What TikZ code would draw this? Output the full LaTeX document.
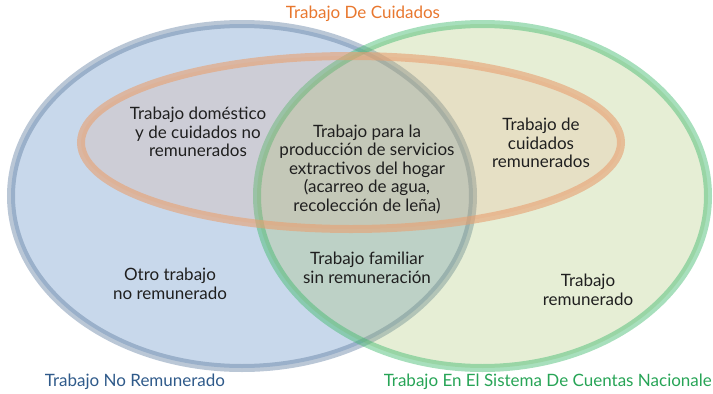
\documentclass[tikz,border=0pt]{standalone}
\usepackage{fontspec}
\setmainfont{Lato}
\usepackage{tikz}

\definecolor{BleuTrait}{HTML}{5B7A9E}
\definecolor{BleuFond}{HTML}{4F81BD}
\definecolor{VertTrait}{HTML}{3CB86A}
\definecolor{VertFond}{HTML}{9BBB59}
\definecolor{OrangeTrait}{HTML}{E8A070}
\definecolor{OrangeFond}{HTML}{E6A07A}
\definecolor{OrangeTexte}{HTML}{E8772E}
\definecolor{BleuTexte}{HTML}{2F5A8A}
\definecolor{VertTexte}{HTML}{27A456}

\begin{document}
\begin{tikzpicture}[x=1pt, y=-1pt,
	zone/.style={align=center, font=\fontsize{17}{18.5}\selectfont, text=black!88},
	titre/.style={font=\fontsize{17}{18.5}\selectfont}]
	\useasboundingbox (0,0) rectangle (713,394);
	% les trois ensembles
	\fill[BleuFond, fill opacity=0.31] (242,196) ellipse [x radius=231pt, y radius=172pt];
	\draw[BleuTrait, line width=8pt, draw opacity=0.42] (242,196) ellipse [x radius=231pt, y radius=172pt];
	\fill[VertFond, fill opacity=0.25] (482.5,196) ellipse [x radius=225.5pt, y radius=172pt];
	\draw[VertTrait, line width=8pt, draw opacity=0.45] (482.5,196) ellipse [x radius=225.5pt, y radius=172pt];
	\fill[OrangeFond, fill opacity=0.18] (351,142.5) ellipse [x radius=270pt, y radius=86.5pt];
	\draw[OrangeTrait, line width=8pt, draw opacity=0.6] (351,142.5) ellipse [x radius=270pt, y radius=86.5pt];
	% titres
	\node[titre, text=OrangeTexte] (Cuidados) at (363,14) {Trabajo De Cuidados};
	\node[titre, text=BleuTexte] (NoRem) at (135,382) {Trabajo No Remunerado};
	\node[titre, text=VertTexte, anchor=east, inner xsep=1pt] (Cuentas) at (713,382) {Trabajo En El Sistema De Cuentas Nacionale};
	% contenu
	\node[zone] (Domestico) at (198,132) {Trabajo doméstico\\y de cuidados no\\remunerados};
	\node[zone] (Extractivos) at (367,169) {Trabajo para la\\producción de servicios\\extractivos del hogar\\(acarreo de agua,\\recolección de leña)};
	\node[zone] (CuidRem) at (541,143) {Trabajo de\\cuidados\\remunerados};
	\node[zone] (Familiar) at (367,268) {Trabajo familiar\\sin remuneración};
	\node[zone] (Otro) at (170,284) {Otro trabajo\\no remunerado};
	\node[zone] (Remunerado) at (588,290) {Trabajo\\remunerado};
\end{tikzpicture}
\end{document}
